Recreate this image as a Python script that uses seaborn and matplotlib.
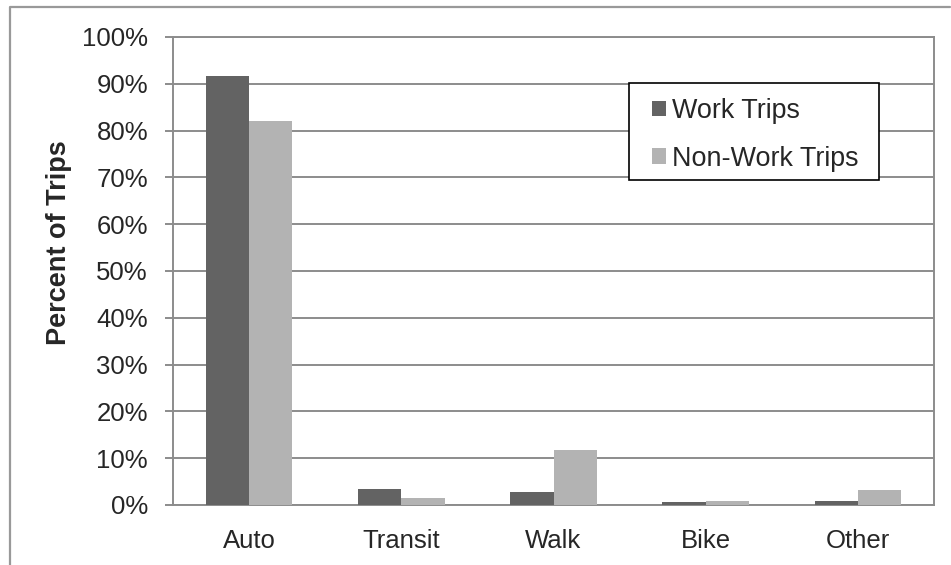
import numpy as np
import pandas as pd
import matplotlib
matplotlib.use('Agg')
import matplotlib.pyplot as plt
import seaborn as sns
from matplotlib.lines import Line2D
from matplotlib.patches import Rectangle
from matplotlib.ticker import FixedLocator, PercentFormatter


# mode share values (percent of trips)
modes = ['Auto', 'Transit', 'Walk', 'Bike', 'Other']
work_trips = [91.6, 3.4, 2.8, 0.6, 0.9]
nonwork_trips = [82.1, 1.4, 11.7, 0.9, 3.1]
series_names = ['Work Trips', 'Non-Work Trips']
y_ticks = list(range(0, 101, 10))

df = pd.DataFrame({
    'mode': modes * 2,
    'pct': work_trips + nonwork_trips,
    'trip': [series_names[0]] * len(modes) + [series_names[1]] * len(modes),
})

sns.set_style('white')
plt.rcParams['font.family'] = ['Liberation Sans', 'DejaVu Sans']

fig = plt.figure(figsize=(9.51, 5.65), dpi=100)
ax = fig.add_axes([173 / 951, 1 - 505 / 565, 761 / 951, 468 / 565])

grid_col = '#8c8c8c'

sns.barplot(data=df, x='mode', y='pct', hue='trip', order=modes,
            hue_order=series_names,
            palette=['#636363', '#b3b3b3'],
            width=0.57, gap=0, saturation=1, linewidth=0,
            errorbar=None, ax=ax, zorder=3)

ax.set_xlim(-0.5, len(modes) - 0.5)
ax.set_ylim(0, 100)
ax.yaxis.set_major_locator(FixedLocator(y_ticks))
ax.yaxis.set_major_formatter(PercentFormatter(decimals=0))
ax.grid(axis='y', color=grid_col, linewidth=1.4, zorder=0)
ax.set_axisbelow(True)

# excel style: tick marks between categories, labels centred
ax.set_xticks(np.arange(len(modes)))
ax.set_xticklabels(modes)
ax.set_xticks(np.arange(-0.5, len(modes)), minor=True)
ax.tick_params(axis='x', which='major', length=0, pad=17, labelsize=18.5)
ax.tick_params(axis='x', which='minor', length=6, width=1.4, color=grid_col,
               direction='out')
ax.tick_params(axis='y', which='major', length=6, width=1.4, color=grid_col,
               direction='out', pad=12, labelsize=18.5, left=True)

for s in ax.spines.values():
    s.set_color(grid_col)
    s.set_linewidth(1.4)

ax.set_xlabel('')
ax.set_ylabel('Percent of Trips', fontsize=19.5, fontweight='bold')
ax.yaxis.set_label_coords(-101 / 761, (505 - 243) / 468)

# legend box drawn separately so the padding matches the original
ax.add_patch(Rectangle((0.599, 0.6944), 0.3285, 0.2073, transform=ax.transAxes,
                       facecolor='white', edgecolor='black', linewidth=1.2,
                       zorder=4, clip_on=False))
leg = ax.legend(loc='upper left', bbox_to_anchor=(0.629, 0.8697), borderaxespad=0,
                fontsize=19.4, frameon=False, handlelength=0.52, handleheight=0.52,
                handletextpad=0.22, labelspacing=0.8, borderpad=0)
leg.set_zorder(5)

# outer chart frame (cut at right/bottom edges)
fig.add_artist(Line2D([10 / 951, 10 / 951, 950 / 951], [0, 1 - 7 / 565, 1 - 7 / 565],
                      transform=fig.transFigure, color='#999999', linewidth=1.6))

fig.savefig('out.png', dpi=100)
